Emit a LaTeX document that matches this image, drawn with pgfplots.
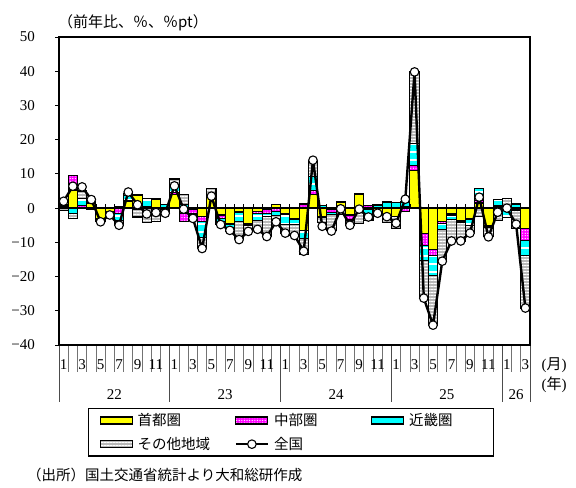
\documentclass[border=0pt]{standalone}
\usepackage{fontspec}
\setmainfont{Liberation Serif}
\newfontfamily\jp{Noto Sans CJK JP}
\usepackage{pgfplots}
\pgfplotsset{compat=1.18}
\usepackage{pgfplotstable}
\usetikzlibrary{patterns.meta}

\definecolor{cYel}{RGB}{255,255,0}
\definecolor{cMag}{RGB}{255,0,255}
\definecolor{cCya}{RGB}{0,255,255}
\definecolor{cGry}{RGB}{185,185,185}

% m = month index (1 = 2022/1), s = shutoken, c = chubu, k = kinki, o = other, t = zenkoku
\pgfplotstableread{
m s c k o t
1 0.5 0.3 0.2 -0.8 2.0
2 5.3 4.3 -1.6 -1.4 6.4
3 0.3 0.5 2.0 2.2 6.2
4 1.5 0.3 0.2 -0.5 2.5
5 -3.0 -0.3 -0.3 -0.4 -4.0
6 -1.0 -0.3 -0.3 -0.4 -2.0
7 0.5 -1.5 -2.2 -1.3 -5.0
8 2.0 0.3 1.5 0.5 4.7
9 3.7 0.2 -0.3 -2.3 1.0
10 0.3 0.2 2.3 -4.2 -1.7
11 2.6 0.1 0.1 -4.0 -1.3
12 -0.3 0.2 0.8 -1.3 -1.5
13 4.0 0.6 2.4 1.5 6.5
14 -1.5 -2.5 1.0 3.0 -0.3
15 -0.5 -1.0 -0.5 -1.0 -3.0
16 -2.5 -1.5 -4.5 -3.3 -11.8
17 3.0 0.3 0.5 2.0 3.5
18 -2.0 -1.0 -0.8 -1.0 -4.8
19 -4.5 -0.3 -0.8 -1.2 -6.5
20 -1.0 -0.3 -2.5 -5.3 -9.2
21 -4.5 -0.3 -0.3 -1.8 -6.8
22 -1.0 -0.5 -2.0 -2.7 -6.2
23 -0.3 -1.3 -0.8 -5.8 -8.3
24 1.0 -1.0 -1.2 -2.0 -4.0
25 -1.5 -0.3 -3.0 -2.5 -7.3
26 -3.0 -0.3 -1.5 -3.2 -8.0
27 -6.5 1.2 -2.5 -4.5 -12.6
28 4.0 1.2 4.0 4.6 14.0
29 -2.5 -0.3 0.8 -1.5 -5.3
30 -0.3 -1.0 -0.5 -4.8 -6.7
31 1.8 -0.3 -0.5 -1.0 -0.2
32 -2.0 -1.2 -0.5 -1.3 -5.0
33 4.0 0.2 -0.5 -4.0 -0.3
34 -0.5 0.8 -1.5 -1.5 -2.6
35 -1.0 0.3 0.6 -1.2 -1.5
36 -2.5 0.3 1.5 -1.8 -2.5
37 -2.5 0.3 1.3 -3.5 -4.4
38 0.5 -1.0 1.3 0.2 2.6
39 11.0 1.5 6.5 20.8 39.8
40 -7.4 -3.5 -4.3 -11.1 -26.3
41 -12.0 -1.8 -6.0 -14.4 -34.2
42 -3.8 -0.6 -1.8 -9.3 -15.5
43 -1.6 -0.4 -1.2 -6.4 -9.6
44 -3.5 -0.5 -0.3 -5.3 -9.6
45 -3.0 -0.3 -1.8 -2.2 -7.3
46 1.5 0.8 3.5 -2.5 3.2
47 -5.0 -0.3 -0.3 -2.8 -8.4
48 0.5 0.2 1.8 -3.7 -1.2
49 -0.5 -0.3 -2.0 2.8 0.0
50 -0.3 -0.3 1.2 -5.3 -4.7
51 -6.0 -3.5 -4.3 -15.4 -29.2
}\data

\pgfplotsset{
  frame/.style={scale only axis, width=471bp, height=308bp,
    at={(59bp,143bp)}, anchor=south west,
    xmin=0.5, xmax=51.5, ymin=-40, ymax=50},
  shuto/.style={draw=black, line width=1.1bp, fill=cYel},
  chubu/.style={draw=black, line width=1.1bp, preaction={fill=cMag},
    pattern={Dots[distance=2.6bp, radius=0.65bp]}, pattern color=white},
  kinki/.style={draw=black, line width=1.1bp, preaction={fill=cCya},
    pattern={Lines[angle=0, distance=8bp, line width=2bp]}, pattern color=white},
  sonota/.style={draw=black, line width=1.1bp, preaction={fill=cGry},
    pattern={Lines[angle=0, distance=3bp, line width=1bp]}, pattern color=white},
  barleg/.style={legend image code/.code={\draw[##1] (0bp,-3.5bp) rectangle (32bp,3.5bp);}},
  lineleg/.style={legend image code/.code={\draw[mark repeat=2,mark phase=2,##1]
    plot coordinates {(0bp,0bp) (16bp,0bp) (32bp,0bp)};}},
}
\newcommand\numfont{\fontsize{15bp}{18bp}\selectfont}
\newcommand\jpfont{\jp\fontsize{14.5bp}{17bp}\selectfont}

\begin{document}
\begin{tikzpicture}
% positive parts, stacked up from zero
\begin{axis}[frame, hide axis, ybar stacked, bar width=1]
\addplot[shuto] table[x=m, y expr={max(\thisrow{s},0)}] {\data};
\addplot[chubu] table[x=m, y expr={max(\thisrow{c},0)}] {\data};
\addplot[kinki] table[x=m, y expr={max(\thisrow{k},0)}] {\data};
\addplot[sonota] table[x=m, y expr={max(\thisrow{o},0)}] {\data};
\end{axis}
% negative parts, stacked down from zero
\begin{axis}[frame, hide axis, ybar stacked, bar width=1]
\addplot[shuto] table[x=m, y expr={min(\thisrow{s},0)}] {\data};
\addplot[chubu] table[x=m, y expr={min(\thisrow{c},0)}] {\data};
\addplot[kinki] table[x=m, y expr={min(\thisrow{k},0)}] {\data};
\addplot[sonota] table[x=m, y expr={min(\thisrow{o},0)}] {\data};
\end{axis}
% line, frame, ticks and legend
\begin{axis}[frame, clip=false, axis on top,
  axis line style={line width=2.5bp},
  tick align=outside, major tick length=4bp,
  ytick={-40,-30,...,50}, ytick pos=left,
  yticklabels={−40,−30,−20,−10,0,10,20,30,40,50},
  ytick style={black, line width=0.8bp},
  yticklabel style={font=\numfont, anchor=east, inner sep=0pt, xshift=-20bp},
  xtick={1,3,...,51},
  xticklabels={1,3,5,7,9,11,1,3,5,7,9,11,1,3,5,7,9,11,1,3,5,7,9,11,1,3},
  xtick style={draw=none},
  xticklabel style={font=\numfont, anchor=center, inner sep=0pt, yshift=-16bp},
  legend columns=3, legend cell align=left,
  legend style={at={(0,0)}, anchor=north west, xshift=29bp, yshift=-63bp,
    draw=black, line width=1.2bp, font=\jpfont,
    inner xsep=11bp, inner ysep=4bp, row sep=8bp,
    nodes={inner ysep=1bp, inner xsep=5bp}},
]
\pgfplotsinvokeforeach{0.5,1.5,...,51.5}{
  \draw[black!55, line width=0.8bp] (axis cs:#1,-40) -- ([yshift=-27bp]axis cs:#1,-40);
  \draw[black, line width=0.8bp] (axis cs:#1,0) -- ([yshift=4bp]axis cs:#1,0);
}
\pgfplotsinvokeforeach{0.5,12.5,24.5,36.5,48.5,51.5}{
  \draw[black!70, line width=0.8bp] (axis cs:#1,-40) -- ([yshift=-57bp]axis cs:#1,-40);
}
\draw[black, line width=1.6bp] (axis cs:0.5,0) -- (axis cs:51.5,0);
\node[font=\numfont] at (axis cs:6.5,-40) [yshift=-50bp] {22};
\node[font=\numfont] at (axis cs:18.5,-40) [yshift=-50bp] {23};
\node[font=\numfont] at (axis cs:30.5,-40) [yshift=-50bp] {24};
\node[font=\numfont] at (axis cs:42.5,-40) [yshift=-50bp] {25};
\node[font=\numfont] at (axis cs:50,-40) [yshift=-50bp] {26};

\addlegendimage{barleg, shuto}
\addlegendentry{\makebox[92bp][l]{首都圏}}
\addlegendimage{barleg, chubu}
\addlegendentry{\makebox[92bp][l]{中部圏}}
\addlegendimage{barleg, kinki}
\addlegendentry{\makebox[68bp][l]{近畿圏}}
\addlegendimage{barleg, sonota}
\addlegendentry{その他地域}
\addplot[lineleg, black, line width=2.4bp, line join=round, mark=*, mark size=4.3bp,
  mark options={fill=white, draw=black, line width=1.1bp}]
  table[x=m, y=t] {\data};
\addlegendentry{全国}
\end{axis}

\node[anchor=west, inner sep=0pt, font=\jp\fontsize{15bp}{18bp}\selectfont] at (58bp,465bp) {（前年比、％、％pt）};
\node[anchor=center, inner sep=0pt, font=\numfont] at (554bp,123bp) {({\jp 月})};
\node[anchor=center, inner sep=0pt, font=\numfont] at (554bp,103bp) {({\jp 年})};
\node[anchor=west, inner sep=0pt, font=\jpfont] at (27bp,13bp) {（出所）国土交通省統計より大和総研作成};

\pgfresetboundingbox
\useasboundingbox (0,0) rectangle (576bp,488bp);
\end{tikzpicture}
\end{document}
